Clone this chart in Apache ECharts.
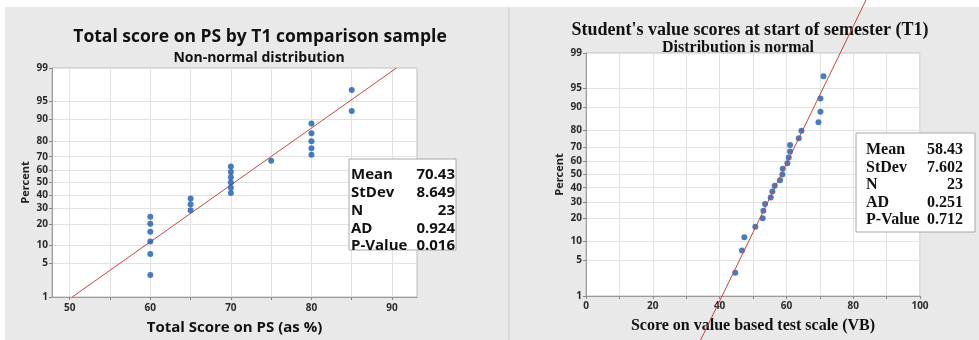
<!DOCTYPE html>
<html><head><meta charset="utf-8">
<script src="https://cdn.jsdelivr.net/npm/echarts@6/dist/echarts.min.js"></script>
<style>html,body{margin:0;padding:0;background:#fff}#c{width:979px;height:340px}</style>
</head><body><div id="c"></div>
<script>
// ---- data ----
const percentTicks = [1, 5, 10, 20, 30, 40, 50, 60, 70, 80, 90, 95, 99];
const plotPercents = [3.0, 7.3, 11.5, 15.8, 20.1, 24.4, 28.6, 32.9, 37.2, 41.5, 45.7, 50.0, 54.3, 58.5, 62.8, 67.1, 71.4, 75.6, 79.9, 84.2, 88.5, 92.7, 97.0];
const leftScores = [60, 60, 60, 60, 60, 60, 65, 65, 65, 70, 70, 70, 70, 70, 70, 75, 80, 80, 80, 80, 80, 85, 85];
const rightScores = [44.7, 46.7, 47.4, 50.7, 52.9, 53.1, 53.6, 55.3, 55.8, 56.5, 58.1, 58.8, 58.9, 60.3, 60.7, 61.1, 61.1, 63.7, 64.5, 69.6, 70.2, 70.2, 71.1];
const leftXTicks = [50, 55, 60, 65, 70, 75, 80, 85, 90];
const leftXLabels = [50, 60, 70, 80, 90];
const rightXLabels = [0, 20, 40, 60, 80, 100];
const statLabels = ['Mean', 'StDev', 'N', 'AD', 'P-Value'];
const leftStatValues = ['70.43', '8.649', '23', '0.924', '0.016'];
const rightStatValues = ['58.43', '7.602', '23', '0.251', '0.712'];
const leftFit = { mean: 70.43, sd: 8.649 };
const rightFit = { mean: 58.43, sd: 7.602 };
const leftTitle = 'Total score on PS by T1 comparison sample';
const leftSub = 'Non-normal distribution';
const leftXName = 'Total Score on PS (as %)';
const rightTitle = "Student's value scores at start of semester (T1)";
const rightSub = 'Distribution is normal';
const rightXName = 'Score on value based test scale (VB)';

// ---- normal probability scale ----
function normInv(p){
  const a=[-3.969683028665376e+01,2.209460984245205e+02,-2.759285104469687e+02,1.383577518672690e+02,-3.066479806614716e+01,2.506628277459239e+00];
  const b=[-5.447609879822406e+01,1.615858368580409e+02,-1.556989798598866e+02,6.680131188771972e+01,-1.328068155288572e+01];
  const c=[-7.784894002430293e-03,-3.223964580411365e-01,-2.400758277161838e+00,-2.549671010229583e+00,4.374664141464968e+00,2.938163982698783e+00];
  const d=[7.784695709041462e-03,3.224671290700398e-01,2.445134137142996e+00,3.754408661907416e+00];
  const pl=0.02425, ph=1-pl; let q,r;
  if(p<pl){q=Math.sqrt(-2*Math.log(p));return (((((c[0]*q+c[1])*q+c[2])*q+c[3])*q+c[4])*q+c[5])/((((d[0]*q+d[1])*q+d[2])*q+d[3])*q+1);}
  if(p<=ph){q=p-0.5;r=q*q;return (((((a[0]*r+a[1])*r+a[2])*r+a[3])*r+a[4])*r+a[5])*q/(((((b[0]*r+b[1])*r+b[2])*r+b[3])*r+b[4])*r+1);}
  q=Math.sqrt(-2*Math.log(1-p));return -(((((c[0]*q+c[1])*q+c[2])*q+c[3])*q+c[4])*q+c[5])/((((d[0]*q+d[1])*q+d[2])*q+d[3])*q+1);
}
const zTicks = percentTicks.map(p => normInv(p / 100));
const zMin = zTicks[0], zMax = zTicks[zTicks.length - 1];
function zLabel(v){
  let best = 0, bd = Infinity;
  zTicks.forEach((z, i) => { const dd = Math.abs(z - v); if (dd < bd) { bd = dd; best = i; } });
  return String(percentTicks[best]);
}
const leftPts = leftScores.map((x, i) => [x, normInv(plotPercents[i] / 100)]);
const rightPts = rightScores.map((x, i) => [x, normInv(plotPercents[i] / 100)]);
const fitLine = (f, z0, z1) => [[f.mean + z0 * f.sd, z0], [f.mean + z1 * f.sd, z1]];

const SANS = '"Open Sans", "Noto Sans", sans-serif';
const SERIF = '"Liberation Serif", "DejaVu Serif", serif';
const tickLabel = { fontFamily: SANS, fontSize: 10, fontWeight: 'bold', color: '#2a2a2a', margin: 4 };

function yAxisCfg(gi){
  return {
    gridIndex: gi, type: 'value', min: zMin, max: zMax,
    name: 'Percent', nameLocation: 'middle', nameGap: 21,
    nameTextStyle: { fontFamily: SANS, fontSize: 11, fontWeight: 'bold', color: '#222' },
    axisLine: { show: true, lineStyle: { color: '#9a9a9a' } },
    axisTick: { show: true, length: 3, customValues: zTicks, lineStyle: { color: '#888' } },
    axisLabel: Object.assign({ customValues: zTicks, formatter: zLabel }, tickLabel),
    splitLine: { show: true, lineStyle: { color: '#e2e2e2' } }
  };
}

const chart = echarts.init(document.getElementById('c'));
const boxTexts = (labels, values, x0, x1, y0, dy, font, fs, weight, z) => {
  const out = [];
  labels.forEach((l, i) => {
    out.push({ type: 'text', z: z, x: x0, y: y0 + i * dy, style: { text: l, font: weight + ' ' + fs + 'px ' + font, fill: '#111', textAlign: 'left', textVerticalAlign: 'middle' } });
    out.push({ type: 'text', z: z, x: x1, y: y0 + i * dy, style: { text: values[i], font: weight + ' ' + fs + 'px ' + font, fill: '#111', textAlign: 'right', textVerticalAlign: 'middle' } });
  });
  return out;
};

chart.setOption({
  backgroundColor: '#e9e9e9',
  animation: false,
  graphic: { elements: [
    { type: 'rect', z: -10, shape: { x: 0, y: 0, width: 979, height: 7 }, style: { fill: '#fff' } },
    { type: 'rect', z: -10, shape: { x: 0, y: 0, width: 5, height: 340 }, style: { fill: '#fff' } },
    { type: 'rect', z: -10, shape: { x: 508, y: 7, width: 2, height: 333 }, style: { fill: '#dcdcdc' } },
    { type: 'text', z: 5, x: 260, y: 37, style: { text: leftTitle, font: 'bold 17.5px ' + SANS, fill: '#111', textAlign: 'center', textVerticalAlign: 'middle' } },
    { type: 'text', z: 5, x: 259, y: 58, style: { text: leftSub, font: 'bold 14px ' + SANS, fill: '#111', textAlign: 'center', textVerticalAlign: 'middle' } },
    { type: 'text', z: 5, x: 750, y: 30, style: { text: rightTitle, font: 'bold 18px ' + SERIF, fill: '#111', textAlign: 'center', textVerticalAlign: 'middle' } },
    { type: 'text', z: 5, x: 738, y: 48, style: { text: rightSub, font: 'bold 16px ' + SERIF, fill: '#111', textAlign: 'center', textVerticalAlign: 'middle' } },
    { type: 'rect', z: 100, shape: { x: 349, y: 159, width: 107, height: 91 }, style: { fill: '#fff', stroke: '#a8a8a8', lineWidth: 1 } },
    ...boxTexts(statLabels, leftStatValues, 351, 455, 175, 17.8, SANS, 15, 'bold', 101),
    { type: 'rect', z: 100, shape: { x: 856, y: 133, width: 119, height: 99 }, style: { fill: '#fff', stroke: '#a8a8a8', lineWidth: 1 } },
    ...boxTexts(statLabels, rightStatValues, 866, 963, 150, 17.5, SERIF, 16, 'bold', 101)
  ] },
  grid: [
    { left: 52, right: 562, top: 68, bottom: 42, show: true, backgroundColor: '#fff', borderColor: '#bdbdbd', borderWidth: 1 },
    { left: 586, right: 59, top: 53, bottom: 44, show: true, backgroundColor: '#fff', borderColor: '#bdbdbd', borderWidth: 1 }
  ],
  xAxis: [
    { gridIndex: 0, type: 'value', min: 47.8, max: 93.1,
      name: leftXName, nameLocation: 'middle', nameGap: 23,
      nameTextStyle: { fontFamily: SANS, fontSize: 15, fontWeight: 'bold', color: '#111' },
      axisLine: { show: true, onZero: false, lineStyle: { color: '#9a9a9a' } },
      axisTick: { show: true, length: 3, customValues: leftXTicks, lineStyle: { color: '#888' } },
      axisLabel: Object.assign({ customValues: leftXLabels }, tickLabel, { margin: 6 }),
      splitLine: { show: true, lineStyle: { color: '#e2e2e2' } } },
    { gridIndex: 1, type: 'value', min: 0, max: 100, interval: 10,
      name: rightXName, nameLocation: 'middle', nameGap: 22,
      nameTextStyle: { fontFamily: SERIF, fontSize: 16, fontWeight: 'bold', color: '#111' },
      axisLine: { show: true, onZero: false, lineStyle: { color: '#9a9a9a' } },
      axisTick: { show: true, length: 3, lineStyle: { color: '#888' } },
      axisLabel: Object.assign({ customValues: rightXLabels }, tickLabel, { margin: 5 }),
      splitLine: { show: true, lineStyle: { color: '#e2e2e2' } } }
  ],
  yAxis: [yAxisCfg(0), yAxisCfg(1)],
  series: [
    { type: 'line', xAxisIndex: 0, yAxisIndex: 0, data: fitLine(leftFit, zMin, zMax), symbol: 'none', lineStyle: { color: '#c8453c', width: 1 }, z: 3 },
    { type: 'scatter', xAxisIndex: 0, yAxisIndex: 0, data: leftPts, symbolSize: 6, itemStyle: { color: '#1a5bb0' }, z: 4 },
    { type: 'line', xAxisIndex: 1, yAxisIndex: 1, data: fitLine(rightFit, -3.18, 3.36), symbol: 'none', clip: false, lineStyle: { color: '#c8453c', width: 1 }, z: 6 },
    { type: 'scatter', xAxisIndex: 1, yAxisIndex: 1, data: rightPts, symbolSize: 6, itemStyle: { color: '#1a5bb0' }, z: 4 }
  ]
});
</script>
</body></html>
